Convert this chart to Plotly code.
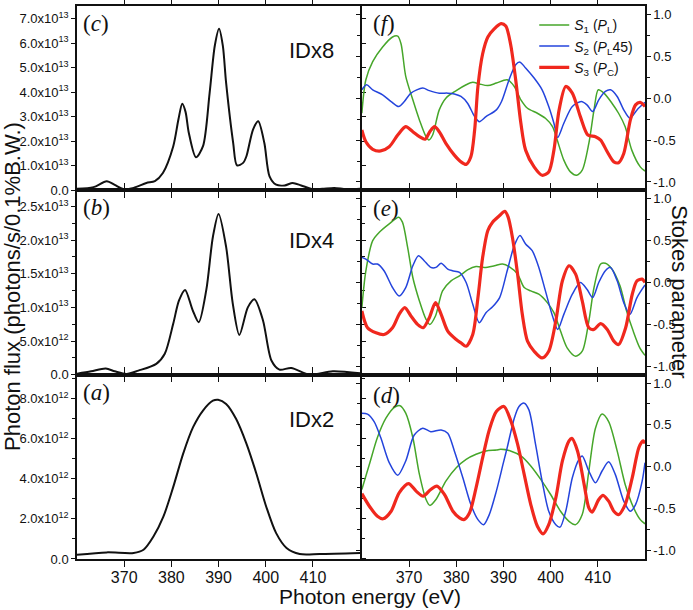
import plotly.graph_objects as go

# ---------------- Data ----------------
# Left column: photon flux
c_energy = [360.0, 363.5, 366.3, 368.0, 369.8, 372.0, 374.7, 376.5, 378.2, 380.4, 381.5, 382.3, 383.0, 383.7,
            385.2, 386.7, 388.1, 389.2, 390.1, 390.9, 391.6, 393.1, 393.9, 395.2, 395.9, 397.3, 398.4, 399.7,
            400.8, 402.2, 404.0, 405.7, 407.5, 410.0, 412.0, 414.5, 417.0, 420.0]
c_flux = [0.06, 0.13, 0.37, 0.22, 0.05, 0.1, 0.3, 0.38, 0.71, 1.8, 2.9, 3.53, 3.2, 2.34,
          1.35, 1.8, 3.97, 5.9, 6.59, 5.9, 4.38, 1.93, 1.02, 1.12, 1.39, 2.48, 2.82, 1.93,
          0.57, 0.23, 0.2, 0.3, 0.2, 0.04, 0.06, 0.1, 0.05, 0.06]  # x 1e13

b_energy = [360.0, 363.0, 366.1, 368.0, 370.5, 373.0, 376.8, 378.6, 380.4, 381.6, 382.9, 384.5, 385.8, 387.4,
            388.8, 390.0, 391.6, 393.0, 394.4, 396.2, 397.6, 399.4, 401.2, 402.9, 405.4, 409.3, 414.2, 420.0]
b_flux = [0.015, 0.05, 0.09, 0.05, 0.01, 0.06, 0.16, 0.31, 0.76, 1.1, 1.26, 0.96, 0.78, 1.26,
          2.05, 2.39, 1.9, 1.06, 0.59, 1.0, 1.12, 0.81, 0.21, 0.075, 0.1, 0.0, 0.05, 0.02]  # x 1e13

a_energy = [360.0, 366.3, 372.0, 374.1, 376.2, 378.3, 380.4, 382.5, 384.6, 386.7, 388.8, 389.9, 391.6, 393.7,
            395.9, 398.0, 400.1, 402.2, 404.4, 407.2, 411.4, 420.0]
a_flux = [0.21, 0.33, 0.3, 0.46, 1.12, 2.11, 3.6, 5.26, 6.58, 7.41, 7.9, 7.95, 7.74, 7.0,
          5.76, 4.27, 2.61, 1.29, 0.55, 0.25, 0.25, 0.3]  # x 1e12

# Right column: Stokes parameters
f_s1_e = [360.0, 360.85, 362.3, 364.4, 366.5, 367.6, 368.3, 369.3, 370.8, 372.2, 373.6, 374.2, 375.0, 376.4,
          377.8, 380.0, 382.1, 383.5, 384.9, 386.7, 388.5, 390.8, 392.3, 393.7, 395.1, 397.2, 398.9, 400.4,
          401.4, 402.8, 404.2, 405.5, 406.7, 408.1, 409.2, 410.1, 411.3, 413.0, 414.4, 415.8, 417.2, 419.0, 420.0]
f_s1_v = [-0.18, 0.22, 0.435, 0.61, 0.73, 0.74, 0.65, 0.26, -0.02, -0.26, -0.46, -0.5, -0.44, -0.14,
          0.0, 0.09, 0.16, 0.19, 0.17, 0.15, 0.18, 0.22, 0.14, -0.02, -0.12, -0.18, -0.24, -0.34,
          -0.5, -0.74, -0.88, -0.92, -0.86, -0.54, -0.14, 0.1, 0.06, -0.06, -0.18, -0.34, -0.62, -0.82, -0.87]

f_s2_e = [360.0, 361.0, 362.3, 364.4, 366.2, 367.8, 369.0, 370.4, 372.9, 374.3, 376.4, 378.2, 379.6, 381.0,
          382.4, 383.9, 384.9, 386.3, 388.5, 389.6, 391.2, 392.6, 393.5, 394.7, 396.5, 398.2, 399.6, 400.7,
          401.5, 402.8, 404.6, 406.5, 407.7, 408.9, 410.2, 411.6, 412.7, 414.1, 415.5, 416.8, 418.3, 420.0]
f_s2_v = [0.1, 0.16, 0.1, 0.04, -0.04, -0.1, -0.04, 0.06, 0.12, 0.09, 0.06, 0.06, 0.05, 0.02,
          -0.06, -0.22, -0.28, -0.22, -0.14, -0.04, 0.22, 0.4, 0.43, 0.36, 0.24, 0.1, -0.1, -0.3,
          -0.47, -0.3, -0.1, -0.04, -0.08, -0.16, -0.02, 0.08, 0.1, 0.02, -0.14, -0.24, -0.14, -0.05]

f_s3_e = [360.0, 360.85, 362.3, 364.0, 365.8, 367.6, 369.3, 370.8, 372.2, 373.4, 374.4, 375.4, 376.4, 377.8,
          379.6, 381.0, 382.1, 383.1, 383.9, 384.6, 385.6, 386.7, 388.1, 389.5, 390.5, 391.5, 392.6, 393.7,
          394.7, 396.5, 398.2, 399.6, 400.7, 401.8, 403.2, 404.6, 406.3, 407.9, 409.5, 410.6, 412.0, 413.4,
          414.4, 415.5, 416.9, 418.0, 419.0, 420.0]
f_s3_v = [-0.38, -0.52, -0.61, -0.63, -0.58, -0.44, -0.34, -0.4, -0.46, -0.49, -0.4, -0.34, -0.4, -0.54,
          -0.68, -0.76, -0.79, -0.7, -0.38, 0.14, 0.53, 0.73, 0.83, 0.89, 0.86, 0.65, 0.22, -0.3,
          -0.62, -0.82, -0.92, -0.88, -0.62, -0.14, 0.14, 0.06, -0.22, -0.44, -0.46, -0.5, -0.64, -0.76,
          -0.77, -0.66, -0.26, -0.08, -0.05, -0.1]

e_s1_e = [360.0, 360.85, 362.3, 363.7, 365.8, 367.8, 368.6, 369.7, 370.8, 372.2, 373.6, 374.4, 375.6, 377.1,
          378.9, 380.7, 382.4, 384.2, 386.0, 388.1, 389.8, 391.2, 393.0, 394.4, 395.8, 397.5, 399.3, 400.7,
          402.1, 403.5, 405.3, 406.7, 408.1, 409.2, 410.6, 411.6, 413.0, 414.7, 416.1, 417.5, 418.9, 420.0]
e_s1_v = [-0.3, 0.14, 0.5, 0.6, 0.7, 0.78, 0.72, 0.42, 0.06, -0.22, -0.44, -0.5, -0.4, -0.1,
          0.02, 0.08, 0.15, 0.19, 0.18, 0.2, 0.22, 0.19, 0.1, -0.06, -0.1, -0.14, -0.24, -0.36,
          -0.58, -0.78, -0.88, -0.82, -0.46, -0.06, 0.22, 0.23, 0.16, -0.04, -0.34, -0.58, -0.78, -0.87]

e_s2_e = [360.0, 360.85, 362.3, 363.3, 364.7, 366.5, 367.9, 369.3, 370.8, 372.0, 373.2, 374.6, 375.7, 376.8,
          378.2, 379.2, 380.7, 382.1, 383.5, 384.9, 386.3, 387.7, 389.2, 390.8, 392.3, 393.5, 394.7, 396.1,
          397.5, 398.9, 400.4, 401.5, 402.8, 404.6, 406.3, 407.7, 408.9, 410.2, 411.6, 412.7, 414.1, 415.5,
          416.8, 418.3, 420.0]
e_s2_v = [0.3, 0.28, 0.22, 0.22, 0.14, -0.06, -0.16, -0.06, 0.2, 0.32, 0.26, 0.18, 0.18, 0.23,
          0.16, 0.14, 0.12, 0.0, -0.26, -0.48, -0.36, -0.29, -0.18, 0.14, 0.44, 0.56, 0.46, 0.38,
          0.18, -0.1, -0.4, -0.56, -0.38, -0.14, 0.0, -0.08, -0.18, 0.0, 0.14, 0.18, 0.02, -0.24,
          -0.38, -0.18, -0.03]

e_s3_e = [360.0, 361.2, 363.0, 364.7, 366.5, 367.9, 369.1, 370.4, 371.8, 373.0, 374.3, 375.6, 376.8, 378.2,
          380.0, 381.0, 382.1, 383.5, 384.6, 385.6, 386.7, 387.7, 389.2, 390.3, 391.0, 391.9, 393.0, 394.0,
          395.1, 396.5, 398.2, 399.6, 401.1, 402.5, 403.9, 405.3, 406.7, 408.1, 409.2, 410.6, 412.0, 413.4,
          414.4, 415.9, 417.3, 418.3, 419.4, 420.0]
e_s3_v = [-0.34, -0.54, -0.6, -0.62, -0.54, -0.38, -0.3, -0.4, -0.5, -0.54, -0.42, -0.24, -0.38, -0.58,
          -0.68, -0.72, -0.76, -0.62, -0.18, 0.3, 0.62, 0.72, 0.8, 0.85, 0.78, 0.54, 0.1, -0.38,
          -0.7, -0.82, -0.9, -0.82, -0.46, 0.02, 0.2, 0.1, -0.22, -0.54, -0.56, -0.49, -0.56, -0.7,
          -0.74, -0.54, -0.14, 0.02, 0.04, 0.0]

d_s1_e = [360.0, 361.6, 363.3, 365.1, 366.9, 368.1, 369.3, 370.8, 372.2, 373.6, 374.4, 375.7, 377.8, 380.0,
          382.1, 384.2, 386.3, 388.5, 389.4, 391.5, 393.7, 395.8, 397.9, 400.0, 402.1, 403.9, 405.3, 406.7,
          408.1, 409.5, 410.9, 412.3, 414.1, 415.8, 417.6, 419.0, 420.0]
d_s1_v = [-0.27, 0.03, 0.35, 0.58, 0.71, 0.73, 0.64, 0.35, -0.09, -0.39, -0.46, -0.39, -0.17, -0.01,
          0.09, 0.15, 0.19, 0.2, 0.21, 0.19, 0.13, 0.01, -0.15, -0.33, -0.53, -0.65, -0.69, -0.57,
          -0.05, 0.46, 0.63, 0.54, 0.19, -0.21, -0.49, -0.63, -0.68]

d_s2_e = [360.0, 361.2, 362.6, 364.0, 365.8, 367.6, 369.3, 371.1, 372.9, 374.6, 376.8, 378.2, 379.6, 381.4,
          383.1, 384.6, 385.8, 387.0, 388.5, 390.0, 390.8, 392.3, 393.3, 394.4, 395.4, 396.8, 398.2, 399.6,
          401.1, 402.0, 403.2, 404.6, 406.0, 406.7, 408.1, 409.5, 410.9, 412.3, 413.7, 415.5, 416.9, 418.0,
          419.4, 420.0]
d_s2_v = [0.64, 0.63, 0.54, 0.35, 0.05, -0.1, 0.07, 0.38, 0.46, 0.42, 0.44, 0.4, 0.19, -0.13,
          -0.45, -0.63, -0.69, -0.57, -0.29, 0.05, 0.23, 0.58, 0.72, 0.76, 0.68, 0.27, -0.17, -0.53,
          -0.69, -0.72, -0.53, -0.13, 0.09, 0.13, -0.05, -0.19, -0.05, 0.06, -0.09, -0.41, -0.53, -0.45,
          -0.17, 0.05]

d_s3_e = [360.0, 361.6, 363.3, 364.5, 366.2, 367.9, 369.9, 371.5, 373.0, 374.6, 375.9, 377.5, 379.3, 380.7,
          381.6, 382.8, 384.2, 385.6, 387.0, 388.5, 390.1, 391.5, 393.0, 394.4, 395.8, 397.2, 398.4, 399.6,
          401.1, 402.5, 403.9, 404.5, 405.7, 407.1, 408.1, 408.8, 410.2, 411.1, 412.3, 413.4, 414.4, 415.8,
          417.3, 418.7, 419.6, 420.0]
d_s3_v = [-0.32, -0.47, -0.59, -0.62, -0.53, -0.31, -0.2, -0.29, -0.35, -0.27, -0.23, -0.33, -0.53, -0.61,
          -0.63, -0.55, -0.25, 0.11, 0.44, 0.66, 0.72, 0.56, 0.27, -0.09, -0.45, -0.71, -0.8, -0.69,
          -0.37, 0.07, 0.31, 0.34, 0.19, -0.21, -0.49, -0.54, -0.39, -0.34, -0.41, -0.53, -0.57, -0.45,
          -0.13, 0.23, 0.31, 0.28]

x_ticks = [370, 380, 390, 400, 410]
c_ticks = [0, 1, 2, 3, 4, 5, 6, 7]
b_ticks = [0, 0.5, 1.0, 1.5, 2.0, 2.5]
a_ticks = [0, 2, 4, 6, 8]
s_ticks = [-1.0, -0.5, 0.0, 0.5, 1.0]

legend_names = ["<i>S</i><sub>1</sub> (<i>P</i><sub>L</sub>)",
                "<i>S</i><sub>2</sub> (<i>P</i><sub>L</sub>45)",
                "<i>S</i><sub>3</sub> (<i>P</i><sub>C</sub>)"]
flux_labels = ["IDx2", "IDx4", "IDx8"]

# ---------------- Styling ----------------
SANS = "Liberation Sans, Arial, sans-serif"
SERIF = "Liberation Serif, Times New Roman, serif"
GREEN = "#46a62a"
BLUE = "#2444dc"
RED = "#f0281e"
BLACK = "#111111"


def flux_text(v, exp):
    if v == 0:
        return "0.0"
    return f"{v:.1f}x10<sup>{exp}</sup>"


fig = go.Figure()

# left column (a)=1, (b)=2, (c)=3 ; right column (d)=4, (e)=5, (f)=6
left_sets = [(a_energy, [v * 1e12 for v in a_flux]),
             (b_energy, [v * 1e13 for v in b_flux]),
             (c_energy, [v * 1e13 for v in c_flux])]
for i, (xe, yv) in enumerate(left_sets):
    n = i + 1
    fig.add_trace(go.Scatter(x=xe, y=yv, mode="lines", line=dict(color=BLACK, width=2, shape="spline", smoothing=0.8),
                             xaxis=f"x{n}", yaxis=f"y{n}", showlegend=False, hoverinfo="skip"))

right_sets = [
    [(d_s1_e, d_s1_v), (d_s2_e, d_s2_v), (d_s3_e, d_s3_v)],
    [(e_s1_e, e_s1_v), (e_s2_e, e_s2_v), (e_s3_e, e_s3_v)],
    [(f_s1_e, f_s1_v), (f_s2_e, f_s2_v), (f_s3_e, f_s3_v)],
]
colors = [GREEN, BLUE, RED]
widths = [1.5, 1.5, 3.2]
for i, sets in enumerate(right_sets):
    n = i + 4
    for k, (xe, yv) in enumerate(sets):
        fig.add_trace(go.Scatter(x=xe, y=yv, mode="lines", name=legend_names[k],
                                 line=dict(color=colors[k], width=widths[k], shape="spline", smoothing=0.8),
                                 xaxis=f"x{n}", yaxis=f"y{n}", showlegend=(n == 6), hoverinfo="skip"))

row_domains = [[0.0, 1 / 3], [1 / 3, 2 / 3], [2 / 3, 1.0]]
left_dom = [0.0, 0.4985]
right_dom = [0.5015, 1.0]

axis_common = dict(showline=True, linecolor=BLACK, linewidth=1.5, mirror="allticks", ticks="outside",
                   tickcolor=BLACK, tickwidth=1.2, showgrid=False, zeroline=False, automargin=False)

layout = dict(
    width=693, height=610,
    margin=dict(l=77, r=48, t=6, b=51, autoexpand=False),
    paper_bgcolor="white", plot_bgcolor="white",
    font=dict(family=SANS, color=BLACK),
    showlegend=True,
    legend=dict(x=0.805, y=0.994, xanchor="left", yanchor="top", bgcolor="rgba(0,0,0,0)",
                font=dict(family=SANS, size=14, color=BLACK), tracegroupgap=0, itemwidth=30),
)

for n in range(1, 7):
    col_right = n >= 4
    row = (n - 1) % 3
    xa = dict(axis_common, domain=right_dom if col_right else left_dom, range=[360, 420],
              tickmode="array", tickvals=x_ticks, ticklen=6, anchor=f"y{n}", ticklabelstandoff=-3,
              showticklabels=(row == 0), tickfont=dict(family=SANS, size=16, color=BLACK))
    layout[f"xaxis{n}"] = xa

# left y axes
layout["yaxis1"] = dict(axis_common, domain=row_domains[0], range=[0, 9.2e12], anchor="x1",
                        tickmode="array", tickvals=[v * 1e12 for v in a_ticks],
                        ticktext=[flux_text(v, 12) for v in a_ticks], ticklen=4,
                        minor=dict(tickmode="linear", tick0=0, dtick=1e12, ticks="outside", ticklen=3, tickcolor=BLACK),
                        tickfont=dict(family=SANS, size=13, color=BLACK))
layout["yaxis2"] = dict(axis_common, domain=row_domains[1], range=[0, 2.74e13], anchor="x2",
                        tickmode="array", tickvals=[v * 1e13 for v in b_ticks],
                        ticktext=[flux_text(v, 13 if v >= 1 else 12) if v != 0.5 else "5.0x10<sup>12</sup>" for v in b_ticks],
                        ticklen=4,
                        minor=dict(tickmode="linear", tick0=0, dtick=0.25e13, ticks="outside", ticklen=3, tickcolor=BLACK),
                        tickfont=dict(family=SANS, size=13, color=BLACK))
layout["yaxis3"] = dict(axis_common, domain=row_domains[2], range=[0, 7.52e13], anchor="x3",
                        tickmode="array", tickvals=[v * 1e13 for v in c_ticks],
                        ticktext=[flux_text(v, 13) for v in c_ticks], ticklen=4,
                        tickfont=dict(family=SANS, size=13, color=BLACK))
# right y axes
for n in range(4, 7):
    layout[f"yaxis{n}"] = dict(axis_common, domain=row_domains[n - 4], range=[-1.1, 1.1], anchor=f"x{n}",
                               side="right", tickmode="array", tickvals=s_ticks,
                               ticktext=[f"{v:.1f}" for v in s_ticks], ticklen=4,
                               minor=dict(tickmode="linear", tick0=0, dtick=0.25, ticks="outside", ticklen=3, tickcolor=BLACK),
                               tickfont=dict(family=SANS, size=13, color=BLACK))

fig.update_layout(**layout)

PW, PH, ML, MT = 568.0, 553.0, 77.0, 6.0


def px(x):
    return (x - ML) / PW


def py(y):
    return 1 - (y - MT) / PH


annotations = [
    dict(text="Photon flux (photons/s/0.1%B.W.)", x=px(12), y=py(287), textangle=-90,
         font=dict(family=SANS, size=22, color=BLACK)),
    dict(text="Photon energy (eV)", x=px(370), y=py(609.5), yanchor="bottom",
         font=dict(family=SANS, size=21, color=BLACK)),
    dict(text="Stokes parameter", x=px(680), y=py(292), textangle=90, font=dict(family=SANS, size=22, color=BLACK)),
]
panel_letters = [("a", 81, 392), ("b", 81, 207), ("c", 81, 24), ("d", 371, 395), ("e", 371, 209), ("f", 371, 24)]
for letter, lx, ly in panel_letters:
    annotations.append(dict(text=f"(<i>{letter}</i>)", x=px(lx), y=py(ly), xanchor="left",
                            font=dict(family=SERIF, size=23, color=BLACK)))
for name, ly in zip(flux_labels, [419, 240, 50]):
    annotations.append(dict(text=name, x=px(311), y=py(ly), font=dict(family=SANS, size=22, color=BLACK)))

for a in annotations:
    a.update(xref="paper", yref="paper", showarrow=False)
    a.setdefault("xanchor", "center")
    a.setdefault("yanchor", "middle")
fig.update_layout(annotations=annotations)

# remove the default page margin so the 693x610 figure fills the window exactly
fig.write_html("out.html", config={"displayModeBar": False},
               post_script="document.body.style.margin='0';document.body.style.overflow='hidden';")
